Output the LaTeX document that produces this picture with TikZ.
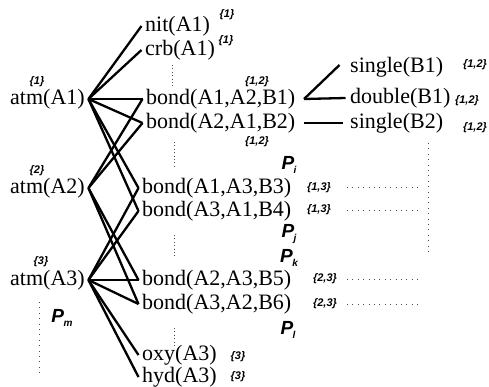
\documentclass[tikz,border=0pt]{standalone}
\usepackage{fontspec}
\setmainfont{Liberation Serif}
\newfontfamily\labfont{Liberation Sans}
\newcommand{\Plab}[1]{P\kern-0.5pt\raisebox{-4pt}{\fontsize{10}{10}\selectfont #1}}
\tikzset{
  term/.style={font=\fontsize{22}{22}\selectfont, inner xsep=3.5pt, inner ysep=0pt, anchor=west},
  lab/.style={font=\labfont\bfseries\itshape\fontsize{11}{11}\selectfont, inner sep=0pt},
  plab/.style={font=\labfont\bfseries\itshape\fontsize{19}{19}\selectfont, inner sep=0pt},
  link/.style={line width=2.3pt},
  vdots/.style={line width=0.9pt, dash pattern=on 0.9pt off 2.5pt, black!70},
  hdots/.style={line width=0.9pt, dash pattern=on 0.9pt off 4.5pt, black!70}
}
\begin{document}
\begin{tikzpicture}[x=1pt,y=-1pt]
\useasboundingbox (0,0) rectangle (489,386);
% atoms
\node[term] (a1) at (6.5,99) {atm(A1)};
\node[term] (a2) at (6.5,188) {atm(A2)};
\node[term] (a3) at (6.5,280) {atm(A3)};
% middle column
\node[term] (nit) at (141.5,26) {nit(A1)};
\node[term] (crb) at (141.5,50) {crb(A1)};
\node[term] (b1) at (142.5,99) {bond(A1,A2,B1)};
\node[term] (b2) at (142.5,123) {bond(A2,A1,B2)};
\node[term] (b3) at (138.5,188) {bond(A1,A3,B3)};
\node[term] (b4) at (138.5,211) {bond(A3,A1,B4)};
\node[term] (b5) at (138.5,280) {bond(A2,A3,B5)};
\node[term] (b6) at (138.5,304) {bond(A3,A2,B6)};
\node[term] (oxy) at (138.5,355) {oxy(A3)};
\node[term] (hyd) at (138.5,377) {hyd(A3)};
% right column
\node[term] (s1) at (346.5,67) {single(B1)};
\node[term] (d1) at (346.5,98) {double(B1)};
\node[term] (s2) at (346.5,123) {single(B2)};
% connectors
\foreach \t in {nit,crb,b1,b2,b3,b4} \draw[link] (a1.east) -- (\t.west);
\foreach \t in {b1,b2,b5,b6} \draw[link] (a2.east) -- (\t.west);
\foreach \t in {b3,b4,b5,b6,oxy,hyd} \draw[link] (a3.east) -- (\t.west);
\draw[link] ([xshift=5pt]b1.east) -- ([xshift=-7pt,yshift=2pt]s1.west);
\draw[link] ([xshift=5pt]b1.east) -- ([xshift=-1pt]d1.west);
\draw[link] ([xshift=5pt]b2.east) -- ([xshift=-4pt]s2.west);
% small labels
\node[lab] (l1) at (37,82) {\{1\}};
\node[lab] (l2) at (37,171) {\{2\}};
\node[lab] (l3) at (41,262) {\{3\}};
\node[lab] (ln) at (227,15) {\{1\}};
\node[lab] (lc) at (226,41) {\{1\}};
\node[lab] (lb1) at (257,82) {\{1,2\}};
\node[lab] (lb2) at (257,142) {\{1,2\}};
\node[lab] (ls1) at (475,65) {\{1,2\}};
\node[lab] (ld1) at (467,101) {\{1,2\}};
\node[lab] (ls2) at (475,128) {\{1,2\}};
\node[lab] (lb3) at (319,188) {\{1,3\}};
\node[lab] (lb4) at (319,210) {\{1,3\}};
\node[lab] (lb5) at (325,279) {\{2,3\}};
\node[lab] (lb6) at (325,304) {\{2,3\}};
\node[lab] (lo) at (238,357) {\{3\}};
\node[lab] (lh) at (238,377) {\{3\}};
% P labels
\node[plab] (pi) at (289,165) {\Plab{i}};
\node[plab] (pj) at (289,234) {\Plab{j}};
\node[plab] (pk) at (289,258) {\Plab{k}};
\node[plab] (pl) at (288,330) {\Plab{l}};
\node[plab] (pm) at (62,318) {\Plab{m}};
% dotted lines
\coordinate (v1a) at (172,65); \coordinate (v1b) at (172,88);
\coordinate (v2a) at (174,142); \coordinate (v2b) at (174,166);
\coordinate (v3a) at (174,235); \coordinate (v3b) at (174,258);
\coordinate (v4a) at (174,328); \coordinate (v4b) at (174,346);
\draw[vdots] (v1a) -- (v1b);
\draw[vdots] (v2a) -- (v2b);
\draw[vdots] (v3a) -- (v3b);
\draw[vdots] (v4a) -- (v4b);
\coordinate (vma) at (39,302); \coordinate (vmb) at (39,375);
\draw[hdots] (vma) -- (vmb);
\coordinate (vra) at (428,143); \coordinate (vrb) at (428,253);
\draw[hdots] (vra) -- (vrb);
\foreach \y/\n in {187/h3,210/h4,279/h5,304/h6} {
  \coordinate (\n a) at (347,\y); \coordinate (\n b) at (418,\y);
  \draw[hdots] (\n a) -- (\n b);
}
\end{tikzpicture}
\end{document}
